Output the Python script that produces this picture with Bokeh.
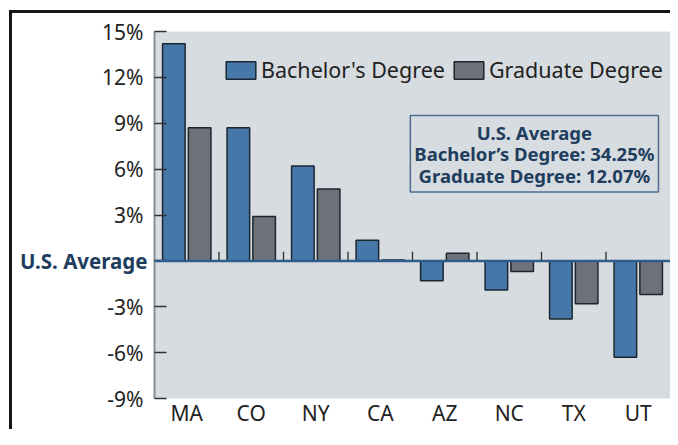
from bokeh.plotting import figure
from bokeh.models import (FactorRange, Range1d, FixedTicker, Label, Span,
                          Legend, LegendItem, ColumnDataSource, LinearAxis)
from bokeh.transform import dodge
from bokeh.embed import file_html
from bokeh.resources import INLINE

# ---- data ----
states = ["MA", "CO", "NY", "CA", "AZ", "NC", "TX", "UT"]
bachelor = [14.2, 8.7, 6.2, 1.35, -1.3, -1.9, -3.8, -6.3]
graduate = [8.7, 2.9, 4.7, 0.05, 0.5, -0.7, -2.8, -2.2]
y_ticks = [-9, -6, -3, 0, 3, 6, 9, 12, 15]
y_tick_labels = ["-9%", "-6%", "-3%", "", "3%", "6%", "9%", "12%", "15%"]
baseline_value = 0
baseline_label = "U.S. Average"
avg_lines = ["U.S. Average", "Bachelor\u2019s Degree: 34.25%", "Graduate Degree: 12.07%"]
series_names = ["Bachelor's Degree", "Graduate Degree"]

FONT = "Noto Sans"
NAVY = "#203d5e"
BG = "#d7dce0"
BLUE = "#4677a9"
GRAY = "#6d7178"
TXT = "#222222"

src = ColumnDataSource(dict(state=states, bachelor=bachelor, graduate=graduate))
bsrc = ColumnDataSource(dict(state=states[:-1]))

p = figure(x_range=FactorRange(*states), y_range=Range1d(-9, 15),
           width=670, height=429, output_backend="svg", toolbar_location=None,
           min_border_left=154, min_border_right=0, min_border_top=31,
           min_border_bottom=24)
p.styles = {
    "background-color": "white",
    "background-image": "linear-gradient(#151515, #151515), linear-gradient(#151515, #151515)",
    "background-size": "3px 100%, 100% 3px",
    "background-position": "9px 10px, 9px 10px",
    "background-repeat": "no-repeat",
}

p.background_fill_color = BG
p.border_fill_alpha = 0
p.outline_line_color = None
p.xgrid.visible = False
p.ygrid.visible = False

r1 = p.vbar(x=dodge("state", -0.2, range=p.x_range), top="bachelor", bottom=0,
            width=0.35, source=src, fill_color=BLUE, line_color="#1c2630",
            line_width=1.5)
r2 = p.vbar(x=dodge("state", 0.2, range=p.x_range), top="graduate", bottom=0,
            width=0.35, source=src, fill_color=GRAY, line_color="#1c2630",
            line_width=1.5)

p.add_layout(Span(location=baseline_value, dimension="width", line_color="#2e5d8c",
                  line_width=2.5))

p.segment(x0=dodge("state", 0.5, range=p.x_range), y0=0,
          x1=dodge("state", 0.5, range=p.x_range), y1=0.6,
          source=bsrc, line_color="#2a2a2a", line_width=1.3)

# main y axis (numbers)
ya = p.yaxis[0]
ya.ticker = FixedTicker(ticks=y_ticks)
ya.major_label_overrides = {t: l for t, l in zip(y_ticks, y_tick_labels)}
ya.axis_line_color = "#8a8d90"
ya.axis_line_width = 2
ya.major_tick_in = 12
ya.major_tick_out = 0
ya.major_tick_line_color = "#333333"
ya.major_tick_line_width = 1.5
ya.minor_tick_line_color = None
ya.minor_tick_in = 0
ya.minor_tick_out = 0
ya.major_label_standoff = 11
ya.major_label_text_font = FONT
ya.major_label_text_font_size = "21px"
ya.major_label_text_color = TXT

# second left axis carrying the "U.S. Average" baseline label
ba = LinearAxis(ticker=FixedTicker(ticks=[baseline_value]),
                major_label_overrides={baseline_value: baseline_label})
ba.axis_line_color = None
ba.major_tick_line_color = None
ba.minor_tick_line_color = None
ba.major_tick_in = 0
ba.major_tick_out = 0
ba.minor_tick_in = 0
ba.minor_tick_out = 0
ba.major_label_standoff = -48
ba.major_label_text_font = FONT
ba.major_label_text_font_size = "20.5px"
ba.major_label_text_font_style = "bold"
ba.major_label_text_color = NAVY
p.add_layout(ba, "left")

# x axis
xa = p.xaxis[0]
xa.axis_line_color = None
xa.major_tick_line_color = None
xa.minor_tick_line_color = None
xa.major_tick_in = 0
xa.major_tick_out = 0
xa.major_label_standoff = 0
xa.major_label_text_font = FONT
xa.major_label_text_font_size = "21px"
xa.major_label_text_color = TXT

p.add_layout(Label(x=5.89, y=7.0, text="\n".join(avg_lines), text_align="center",
                   text_baseline="middle", text_font=FONT, text_font_size="18.5px",
                   text_font_style="bold", text_color=NAVY, text_line_height=0.87,
                   border_line_color="#4d6d8e", border_line_width=1.5,
                   padding=4))

legend = Legend(items=[LegendItem(label=series_names[0], renderers=[r1]),
                       LegendItem(label=series_names[1], renderers=[r2])],
                orientation="horizontal", location=(68, 314),
                background_fill_alpha=0, border_line_color=None, padding=0,
                margin=0, spacing=5, label_standoff=2, glyph_width=37,
                glyph_height=22, label_height=20, label_text_font=FONT,
                label_text_font_size="21.5px", label_text_color=TXT)
p.add_layout(legend)

open("out.html", "w").write(file_html(p, INLINE))
